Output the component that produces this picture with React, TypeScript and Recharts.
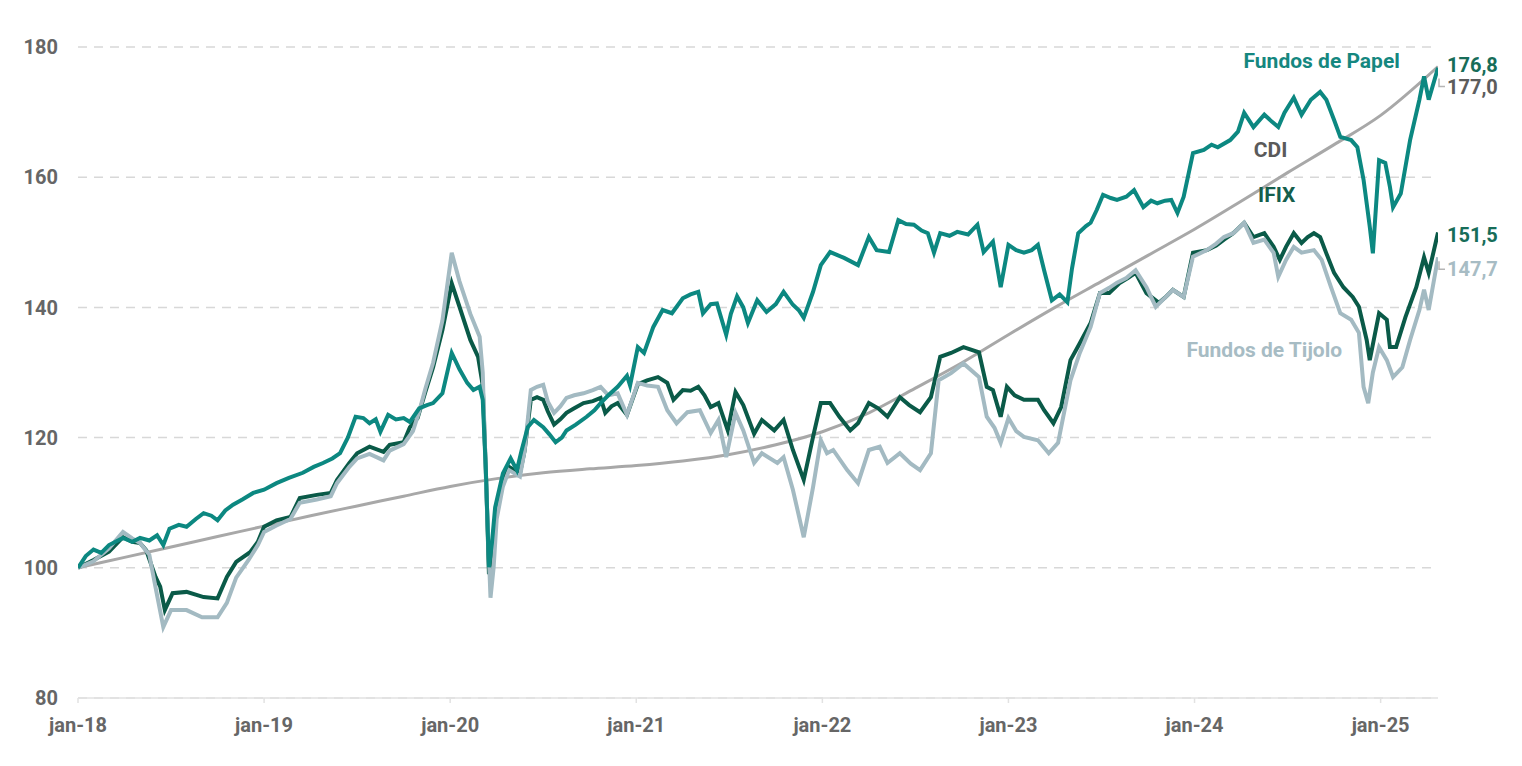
import React from 'react'
import { CartesianGrid, Line, LineChart, ReferenceDot, XAxis, YAxis } from 'recharts'

// month offset from jan-18, index value (base 100)
const papel: [number, number][] = [
  [0, 100], [0.5, 101.8], [1, 102.8], [1.5, 102.3], [2, 103.5], [2.9, 104.6], [3.5, 104], [4, 104.6],
  [4.6, 104.2], [5.1, 105], [5.5, 103.5], [5.9, 106], [6.5, 106.6], [7, 106.3], [7.6, 107.5], [8.1, 108.4],
  [8.6, 108], [9, 107.3], [9.5, 108.8], [10, 109.7], [10.6, 110.5], [11.3, 111.5], [12, 112], [12.8, 113],
  [13.6, 113.8], [14.5, 114.6], [15.2, 115.5], [15.8, 116.1], [16.4, 116.8], [16.9, 117.6], [17.4, 120],
  [17.9, 123.2], [18.4, 123], [18.8, 122.2], [19.2, 122.8], [19.5, 120.9], [20, 123.5], [20.5, 122.8],
  [21, 123], [21.4, 122.4], [22, 124.5], [22.5, 125], [22.9, 125.3], [23.5, 126.8], [24.1, 133], [24.6, 130.5],
  [25.1, 128.4], [25.5, 127.3], [25.9, 127.8], [26.1, 125.8], [26.3, 115], [26.5, 100.1], [26.7, 104],
  [26.9, 109.3], [27.4, 114.5], [27.9, 116.8], [28.3, 115], [28.6, 118], [29, 121.6], [29.4, 122.7], [30, 121.6],
  [30.4, 120.5], [30.8, 119.3], [31.2, 120], [31.5, 121.1], [32.1, 122], [32.8, 123.2], [33.3, 124.2],
  [33.7, 125.3], [34.2, 126.5], [34.8, 127.8], [35.4, 129.5], [35.6, 128], [36.1, 133.9], [36.5, 133],
  [37.1, 137], [37.7, 139.6], [38.3, 139.1], [39, 141.4], [39.5, 142], [40, 142.4], [40.3, 139.1], [40.8, 140.5],
  [41.2, 140.6], [41.8, 135.8], [42.1, 139], [42.5, 141.7], [42.9, 140], [43.2, 137.6], [43.8, 141.1],
  [44.4, 139.3], [45, 140.5], [45.5, 142.4], [46.1, 140.4], [46.5, 139.5], [46.8, 138.4], [47.4, 142.4],
  [47.9, 146.5], [48.5, 148.5], [49.4, 147.6], [50.3, 146.5], [51, 150.8], [51.5, 148.8], [52.3, 148.5],
  [52.9, 153.4], [53.4, 152.8], [53.9, 152.7], [54.4, 151.8], [54.8, 151.4], [55.2, 148.4], [55.6, 151.4],
  [56.2, 151], [56.7, 151.6], [57.4, 151.2], [58, 152.7], [58.4, 148.5], [59, 150.1], [59.5, 143.1], [60, 149.6],
  [60.5, 148.8], [61, 148.4], [61.5, 148.8], [61.9, 149.6], [62.3, 145.7], [62.8, 141.1], [63.3, 142],
  [63.8, 140.8], [64.1, 146], [64.5, 151.4], [65, 152.5], [65.3, 153], [65.7, 155], [66.1, 157.3], [66.6, 156.8],
  [67, 156.5], [67.6, 157], [68.1, 158], [68.7, 155.4], [69.2, 156.4], [69.6, 156], [70.1, 156.4], [70.5, 156.5],
  [70.9, 154.5], [71.3, 157], [71.9, 163.7], [72.6, 164.2], [73.1, 165], [73.5, 164.6], [74.3, 165.7],
  [74.8, 167], [75.2, 169.9], [75.8, 167.7], [76.5, 169.6], [77, 168.5], [77.4, 167.7], [77.8, 169.9],
  [78.4, 172.2], [78.9, 169.6], [79.5, 171.9], [80.1, 173.1], [80.5, 171.9], [81, 168.8], [81.4, 166.2],
  [82.1, 165.7], [82.5, 164.6], [82.9, 159.6], [83.3, 152.4], [83.5, 148.3], [83.9, 162.6], [84.3, 162.2],
  [84.6, 158.5], [84.8, 155.4], [85.3, 157.5], [85.9, 165.7], [86.5, 171.9], [86.8, 175.5], [87.1, 171.9],
  [87.7, 176.8],
]

const ifix: [number, number][] = [
  [0, 100], [1, 101.2], [2, 102.5], [2.9, 104.7], [3.5, 104], [4, 103.8], [4.4, 102.7], [5, 98.6], [5.3, 97.1],
  [5.6, 93.5], [6.1, 96.1], [7, 96.3], [8.1, 95.5], [9, 95.3], [9.6, 98.6], [10.2, 100.9], [11.1, 102.4],
  [11.6, 104], [12, 106.3], [12.8, 107.3], [13.7, 107.8], [14.3, 110.7], [15.4, 111.2], [16.3, 111.5],
  [16.7, 113.5], [17.5, 116.1], [18, 117.6], [18.8, 118.6], [19.7, 117.8], [20.1, 118.9], [21, 119.3],
  [21.4, 121.6], [21.9, 123], [22.4, 127], [22.9, 130.8], [23.5, 136.5], [24.1, 143.7], [24.6, 140.1],
  [25.3, 135], [25.8, 132.4], [26.1, 128], [26.3, 115], [26.5, 99], [26.7, 103], [27, 108.4], [27.4, 113],
  [27.8, 115.5], [28.5, 114.5], [28.8, 118], [29.2, 125.8], [29.6, 126.2], [30, 125.8], [30.3, 124], [30.7, 122],
  [31.1, 122.8], [31.5, 123.8], [32, 124.5], [32.6, 125.3], [33.2, 125.6], [33.7, 126.1], [34, 123.8],
  [34.4, 124.8], [34.8, 125.3], [35.4, 123.5], [36.1, 128.2], [36.7, 128.8], [37.4, 129.3], [38, 128.4],
  [38.4, 125.8], [39, 127.3], [39.5, 127.2], [40, 127.8], [40.4, 126.5], [40.8, 124.7], [41.3, 125.3],
  [41.9, 121.1], [42.4, 127], [42.9, 125], [43.6, 120.6], [44.1, 122.7], [44.9, 121.1], [45.5, 122.7],
  [46.1, 118.1], [46.8, 113.5], [47.4, 120.1], [47.9, 125.3], [48.5, 125.3], [49.1, 123.2], [49.8, 121.1],
  [50.3, 122.2], [51, 125.3], [51.6, 124.5], [52.2, 123.2], [53, 126.2], [53.6, 125], [54.3, 123.9], [55, 126.2],
  [55.6, 132.4], [56.3, 133], [57.1, 133.9], [58.1, 133.1], [58.6, 127.8], [59, 127.3], [59.5, 123.2],
  [59.9, 127.8], [60.4, 126.5], [61, 125.8], [61.9, 125.8], [62.3, 124.2], [62.9, 122.2], [63.4, 124.7],
  [64, 131.9], [64.6, 134.5], [65.3, 137.6], [65.9, 142.2], [66.5, 142.2], [67.2, 143.8], [67.7, 144.5],
  [68.2, 145.3], [68.9, 142.2], [69.7, 140.7], [70.1, 141.5], [70.6, 142.7], [71.3, 141.6], [71.9, 148.4],
  [72.8, 148.8], [73.4, 149.5], [73.9, 150.4], [74.5, 151.4], [75.2, 153], [75.8, 150.8], [76.5, 151.4],
  [77.1, 149.3], [77.5, 147.3], [77.9, 149.3], [78.4, 151.4], [78.9, 149.9], [79.3, 150.8], [79.7, 151.4],
  [80.1, 150.8], [80.5, 148.3], [81, 145.3], [81.6, 143.1], [82.2, 141.6], [82.6, 140.1], [83.1, 135],
  [83.3, 131.9], [83.6, 135.5], [83.9, 139.1], [84.4, 138.1], [84.6, 133.9], [85, 133.9], [85.6, 138.5],
  [86.3, 143.1], [86.8, 147.7], [87.1, 145.3], [87.7, 151.5],
]

const tijolo: [number, number][] = [
  [0, 100], [1, 101], [2, 103], [2.9, 105.5], [3.5, 104.5], [4, 103.8], [4.6, 102], [5, 97], [5.5, 90.9],
  [6, 93.5], [7, 93.5], [8, 92.4], [9, 92.4], [9.6, 94.6], [10.2, 98.5], [11, 101.2], [11.6, 103.5], [12, 105.5],
  [12.8, 106.5], [13.7, 107.5], [14.3, 110], [15.4, 110.5], [16.3, 111], [16.7, 113], [17.5, 115.5],
  [18, 116.8], [18.8, 117.5], [19.7, 116.5], [20.1, 118], [21, 119], [21.6, 121], [22, 124], [22.4, 127.5],
  [22.9, 131.5], [23.5, 138], [24.1, 148.4], [24.6, 144], [25.3, 139], [25.9, 135.5], [26.1, 130], [26.3, 114],
  [26.6, 95.4], [26.8, 100], [27, 107.5], [27.4, 112.5], [27.8, 115], [28.5, 114], [28.8, 118], [29.2, 127.3],
  [29.6, 127.8], [30, 128.1], [30.3, 125.5], [30.7, 123.8], [31.1, 124.8], [31.5, 126.1], [32, 126.5],
  [32.6, 126.8], [33.2, 127.3], [33.7, 127.8], [34.2, 126.5], [34.8, 126.8], [35.4, 123.5], [36.1, 128.4],
  [36.7, 128], [37.4, 127.8], [38, 124.2], [38.6, 122.2], [39.3, 123.9], [40.1, 124.2], [40.8, 120.7],
  [41.3, 122.7], [41.8, 117], [42.4, 123.8], [42.9, 121.1], [43.6, 116.1], [44.1, 117.6], [45.1, 116.1],
  [45.5, 117], [46.1, 112], [46.8, 104.7], [47.4, 112.4], [47.9, 119.6], [48.3, 117.6], [48.7, 118.1],
  [49.6, 115], [50.3, 113], [51, 118.1], [51.7, 118.6], [52.2, 116.1], [53, 117.6], [53.7, 116], [54.3, 115],
  [55, 117.6], [55.5, 128.8], [56.3, 129.9], [57.1, 131.4], [58.1, 129.3], [58.6, 123.2], [59.1, 121.5],
  [59.5, 119.2], [60, 123], [60.5, 121], [61, 120.1], [61.9, 119.6], [62.6, 117.6], [63.2, 119.2], [64, 128.8],
  [64.6, 133], [65.3, 137], [65.9, 142.2], [66.5, 143], [67, 143.8], [67.6, 144.5], [68.2, 145.7], [68.9, 143.1],
  [69.5, 140.1], [70.1, 141.5], [70.6, 142.7], [71.3, 141.6], [71.9, 147.8], [72.8, 148.8], [73.4, 149.8],
  [73.9, 150.8], [74.5, 151.4], [75.2, 153], [75.8, 149.9], [76.5, 150.4], [77.1, 148.4], [77.4, 144.7],
  [77.9, 147.3], [78.4, 149.3], [78.9, 148.4], [79.7, 148.8], [80.2, 147.3], [80.8, 143.1], [81.4, 139.1],
  [82.1, 138.1], [82.6, 136.1], [82.9, 127.8], [83.2, 125.3], [83.5, 130], [83.9, 133.9], [84.4, 131.9],
  [84.8, 129.3], [85.4, 130.8], [85.9, 135], [86.5, 139.6], [86.8, 142.7], [87.1, 139.6], [87.7, 147.7],
]

const cdi: [number, number][] = [
  [0, 100], [3, 101.6], [6, 103.2], [9, 104.8], [12, 106.4], [15, 108], [18, 109.5], [21, 111], [24, 112.5],
  [27, 113.7], [30, 114.6], [33, 115.2], [36, 115.7], [39, 116.4], [42, 117.4], [45, 118.9], [48, 120.9],
  [51, 123.8], [54, 127.6], [57, 131.5], [60, 135.8], [63, 140], [66, 144], [69, 148], [72, 152], [75, 156.3],
  [78, 160.7], [81, 165], [84, 169.5], [87.7, 177],
]

const yearTicks = [0, 12, 24, 36, 48, 60, 72, 84]
const yearLabels = ['jan-18', 'jan-19', 'jan-20', 'jan-21', 'jan-22', 'jan-23', 'jan-24', 'jan-25']
const valueTicks = [80, 100, 120, 140, 160, 180]

// series name annotations, placed in data coordinates
const seriesNames = [
  { text: 'Fundos de Papel', t: 80.2, v: 177.9, color: '#15877f' },
  { text: 'CDI', t: 76.9, v: 164.2, color: '#5a5a5a' },
  { text: 'IFIX', t: 77.3, v: 157.3, color: '#145e4c' },
  { text: 'Fundos de Tijolo', t: 76.5, v: 133.5, color: '#a7bcc4' },
]

const COLORS = {
  papel: '#0c8881',
  ifix: '#0a5a48',
  tijolo: '#a3bac2',
  cdi: '#a8a8a8',
}

const rows = (pts: [number, number][]) => pts.map(([t, v]) => ({ t, v }))
const last = (pts: [number, number][]) => pts[pts.length - 1]

const fmt = (v: number) => v.toFixed(1).replace('.', ',')

// end-of-line value labels; shift moves the text away from its point, leader draws a small bracket
const endLabels = [
  { pts: papel, color: '#176d59', shift: -3, leader: false },
  { pts: cdi, color: '#5c5c5c', shift: 20, leader: true },
  { pts: ifix, color: '#176d59', shift: 2, leader: false },
  { pts: tijolo, color: '#a7bcc4', shift: 12, leader: true },
]

export default function App() {
  return (
    <div style={{ position: 'absolute', left: 0, top: 0, width: 1522, height: 766, background: '#fff' }}>
      <LineChart
        width={1522}
        height={766}
        margin={{ top: 47, right: 84, bottom: 0, left: 0 }}
        style={{ fontFamily: 'Roboto, sans-serif' }}
      >
        <CartesianGrid vertical={false} stroke="#d8d8d8" strokeWidth={1.5} strokeDasharray="9 7" />
        <XAxis
          type="number"
          dataKey="t"
          domain={[0, 87.7]}
          ticks={yearTicks}
          tickFormatter={(t: number) => yearLabels[yearTicks.indexOf(t)]}
          height={68}
          allowDataOverflow
          stroke="#e2e2e2"
          strokeWidth={1.5}
          tickSize={5}
          tickMargin={15}
          tick={{ fill: '#666', fontSize: 20, fontWeight: 700 }}
        />
        <YAxis
          type="number"
          domain={[80, 180]}
          ticks={valueTicks}
          width={78}
          axisLine={false}
          tickLine={false}
          tickSize={0}
          tickMargin={20}
          tick={{ fill: '#666', fontSize: 20, fontWeight: 700 }}
        />
        <Line data={rows(cdi)} dataKey="v" type="monotone" stroke={COLORS.cdi} strokeWidth={3} dot={false} isAnimationActive={false} />
        <Line data={rows(ifix)} dataKey="v" type="linear" stroke={COLORS.ifix} strokeWidth={4} dot={false} isAnimationActive={false} />
        <Line data={rows(tijolo)} dataKey="v" type="linear" stroke={COLORS.tijolo} strokeWidth={4} dot={false} isAnimationActive={false} />
        <Line data={rows(papel)} dataKey="v" type="linear" stroke={COLORS.papel} strokeWidth={4} dot={false} isAnimationActive={false} />

        {seriesNames.map((s) => (
          <ReferenceDot
            key={s.text}
            x={s.t}
            y={s.v}
            r={0}
            ifOverflow="visible"
            shape={(p: any) => (
              <text
                x={p.cx}
                y={p.cy}
                textAnchor="middle"
                dominantBaseline="central"
                fill={s.color}
                fontSize={21}
                fontWeight={700}
              >
                {s.text}
              </text>
            )}
          />
        ))}

        {endLabels.map((e, i) => {
          const [t, v] = last(e.pts)
          return (
            <ReferenceDot
              key={i}
              x={t}
              y={v}
              r={0}
              ifOverflow="visible"
              shape={(p: any) => (
                <g>
                  {e.leader && (
                    <path
                      d={`M${p.cx + 1},${p.cy + e.shift - 8} V${p.cy + e.shift} H${p.cx + 7}`}
                      stroke="#b5b5b5"
                      strokeWidth={1.5}
                      fill="none"
                    />
                  )}
                  <text
                    x={p.cx + 9}
                    y={p.cy + e.shift}
                    dominantBaseline="central"
                    fill={e.color}
                    fontSize={20}
                    fontWeight={700}
                  >
                    {fmt(v)}
                  </text>
                </g>
              )}
            />
          )
        })}
      </LineChart>
    </div>
  )
}
